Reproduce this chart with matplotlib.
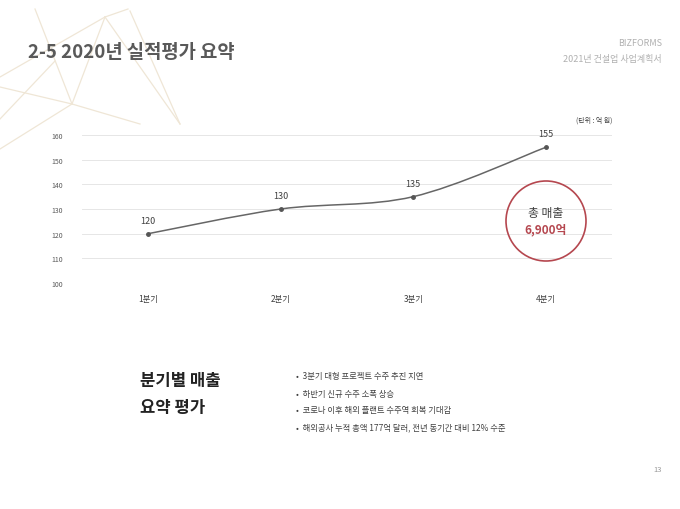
import matplotlib
matplotlib.use('Agg')
import matplotlib.pyplot as plt
from matplotlib.path import Path
from matplotlib.patches import PathPatch, Circle
from matplotlib.lines import Line2D

plt.rcParams['font.family'] = ['Noto Sans CJK KR', 'DejaVu Sans']

quarters = ['1분기', '2분기', '3분기', '4분기']
sales = [120, 130, 135, 155]
yticks = [100, 110, 120, 130, 140, 150, 160]
bullets = ['3분기 대형 프로젝트 수주 추진 지연',
           '하반기 신규 수주 소폭 상승',
           '코로나 이후 해외 플랜트 수주역 회복 기대감',
           '해외공사 누적 총액 177억 달러, 전년 동기간 대비 12% 수준']

W, H = 680, 510
fig = plt.figure(figsize=(6.8, 5.1), dpi=100)

def px(x, y):
    return x / W, 1 - y / H

# 배경 장식선
deco = [((105, 18), (72, 105)), ((105, 18), (180, 125)), ((72, 105), (0, 88)),
        ((72, 105), (140, 125)), ((72, 105), (0, 150)), ((105, 18), (0, 78)),
        ((35, 10), (72, 105)), ((105, 18), (128, 10)), ((130, 12), (180, 125)),
        ((0, 120), (55, 62))]
for a, b in deco:
    (x1, y1), (x2, y2) = px(*a), px(*b)
    fig.add_artist(Line2D([x1, x2], [y1, y2], color='#efe6d6', lw=0.9, zorder=0))

fig.text(*px(28, 52), '2-5 2020년 실적평가 요약', fontsize=13.5, fontweight='bold',
         color='#595959', va='center')
fig.text(*px(662, 44), 'BIZFORMS', fontsize=6.5, color='#b0b0b0', ha='right', va='center')
fig.text(*px(662, 59), '2021년 건설업 사업계획서', fontsize=6.5, color='#b0b0b0', ha='right', va='center')
fig.text(*px(612, 121), '(단위 : 억 원)', fontsize=5, color='#404040', ha='right', va='center')

ax = fig.add_axes([82 / W, 1 - 284 / H, 530 / W, 148 / H])
ax.set_xlim(-0.5, 3.5)
ax.set_ylim(100, 160)
ax.set_yticks(yticks)
ax.tick_params(axis='y', labelsize=5, colors='#595959', length=0, pad=14)
ax.set_xticks(range(len(quarters)))
ax.set_xticklabels(quarters)
ax.tick_params(axis='x', labelsize=6, colors='#404040', length=0, pad=8)
ax.grid(axis='y', color='#e6e6e6', lw=0.7)
for s in ax.spines.values():
    s.set_visible(False)
ax.set_axisbelow(True)

# 부드러운 곡선 (Catmull-Rom -> Bezier)
xs = list(range(len(sales)))
pts = list(zip(xs, sales))
verts = [pts[0]]
codes = [Path.MOVETO]
for i in range(len(pts) - 1):
    p0 = pts[i - 1] if i > 0 else pts[i]
    p1, p2 = pts[i], pts[i + 1]
    p3 = pts[i + 2] if i + 2 < len(pts) else p2
    c1 = (p1[0] + (p2[0] - p0[0]) / 6, p1[1] + (p2[1] - p0[1]) / 6)
    c2 = (p2[0] - (p3[0] - p1[0]) / 6, p2[1] - (p3[1] - p1[1]) / 6)
    verts += [c1, c2, p2]
    codes += [Path.CURVE4] * 3
ax.add_patch(PathPatch(Path(verts, codes), fill=False, edgecolor='#666666', lw=1.1))
ax.plot(xs, sales, 'o', color='#555555', ms=2.5)
for x, v in zip(xs, sales):
    ax.annotate(str(v), (x, v), xytext=(0, 8), textcoords='offset points',
                ha='center', fontsize=6.5, color='#404040')

cx, cy = px(546, 222)
fig.add_artist(Circle((cx * W, cy * H), 40, transform=None, fill=False,
                      edgecolor='#b5474f', lw=1.2))
# 위 Circle은 픽셀 좌표 사용
fig.text(*px(546, 213), '총 매출', fontsize=8.5, color='#404040', ha='center', va='center')
fig.text(*px(546, 230), '6,900억', fontsize=8.5, fontweight='bold', color='#b5474f',
         ha='center', va='center')

fig.text(*px(140, 381), '분기별 매출', fontsize=12, fontweight='bold', color='#222222', va='center')
fig.text(*px(140, 408), '요약 평가', fontsize=12, fontweight='bold', color='#222222', va='center')
for i, b in enumerate(bullets):
    fig.text(*px(296, 377 + i * 17), '•  ' + b, fontsize=6, color='#404040', va='center')

fig.text(*px(662, 470), '13', fontsize=5.5, color='#999999', ha='right', va='center')

fig.savefig('out.png', dpi=100)
